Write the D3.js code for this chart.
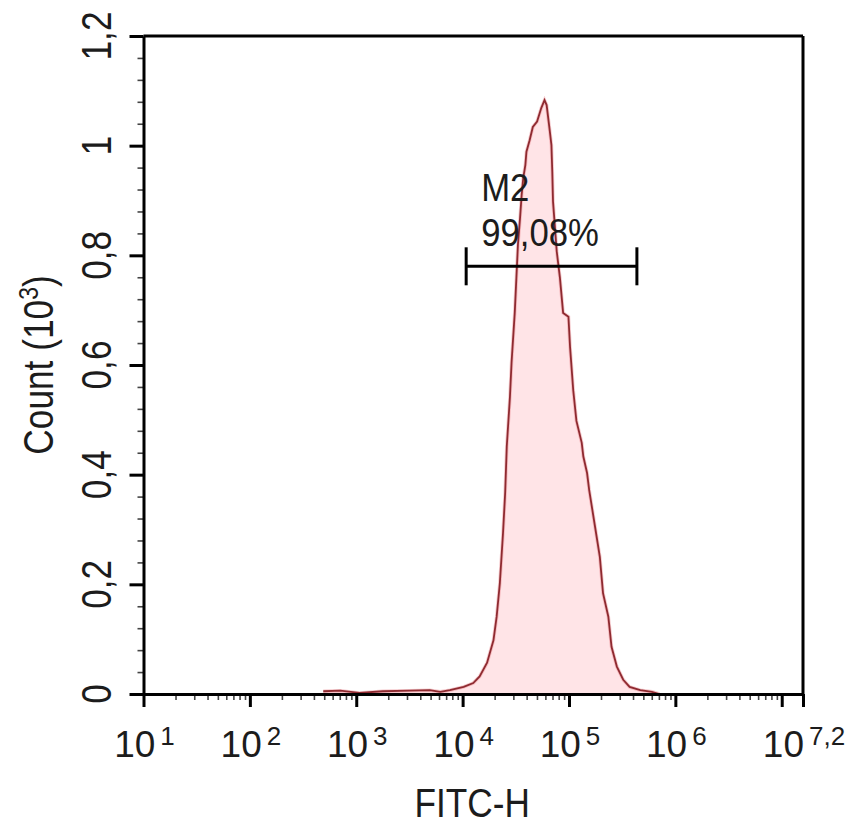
<!DOCTYPE html>
<html>
<head>
<meta charset="utf-8">
<script src="https://cdn.jsdelivr.net/npm/d3@7"></script>
<style>
body { margin: 0; background: #fff; }
text { font-family: "Liberation Sans", Arial, sans-serif; fill: #1c1c1c; }
</style>
</head>
<body>
<svg id="svg" width="847" height="825"></svg>
<script>
// histogram outline: x as log10(FITC-H), counts in 10^3
var fitcLog = [2.69, 2.85, 3.03, 3.25, 3.50, 3.69, 3.79, 3.88, 4.01, 4.10,
  4.16, 4.23, 4.29, 4.32, 4.35, 4.38, 4.40, 4.415, 4.445, 4.46,
  4.49, 4.505, 4.52, 4.54, 4.555, 4.57, 4.59, 4.60, 4.63, 4.66,
  4.70, 4.74, 4.77, 4.79, 4.82, 4.835, 4.843, 4.85, 4.885, 4.915,
  4.945, 4.995, 5.01, 5.04, 5.07, 5.12, 5.135, 5.17, 5.19, 5.245,
  5.29, 5.32, 5.37, 5.40, 5.45, 5.51, 5.57, 5.67, 5.78, 5.85];
var counts = [0.005, 0.006, 0.002, 0.005, 0.006, 0.007, 0.004, 0.007, 0.013, 0.020,
  0.032, 0.057, 0.098, 0.141, 0.202, 0.294, 0.367, 0.451, 0.542, 0.604,
  0.695, 0.757, 0.819, 0.868, 0.910, 0.941, 0.965, 0.989, 1.010, 1.034,
  1.044, 1.069, 1.083, 1.074, 1.026, 1.001, 0.953, 0.898, 0.807, 0.759,
  0.695, 0.688, 0.633, 0.554, 0.498, 0.458, 0.433, 0.403, 0.372, 0.305,
  0.250, 0.184, 0.141, 0.086, 0.050, 0.026, 0.013, 0.007, 0.004, 0];

// M2 gate
var markerName = "M2";
var markerPct = "99,08%";
var markerRange = [1.08e4, 4.35e5];
var markerLevel = 0.78;

// ticks
var yTicks = [0, 0.2, 0.4, 0.6, 0.8, 1, 1.2];
var yTickLabels = ["0", "0,2", "0,4", "0,6", "0,8", "1", "1,2"];
var xTickExps = [1, 2, 3, 4, 5, 6, 7, 7.2];
var xLabelExps = [1, 2, 3, 4, 5, 6, 7.2];
var xLabelSups = ["1", "2", "3", "4", "5", "6", "7,2"];

var svg = d3.select("svg");

var x = d3.scaleLog()
    .domain([10, Math.pow(10, 7.2)])
    .range([143.5, 803]);

var y = d3.scaleLinear()
    .domain([0, 1.2])
    .range([694, 36]);

var pts = fitcLog.map(function(e, i) { return [Math.pow(10, e), counts[i]]; });

// filled histogram
svg.append("path")
  .datum(pts)
  .attr("d", d3.area()
    .x(function(d) { return x(d[0]); })
    .y0(y(0))
    .y1(function(d) { return y(d[1]); }))
  .attr("fill", "#ffe4e7");

svg.append("path")
  .datum(pts)
  .attr("d", d3.line()
    .x(function(d) { return x(d[0]); })
    .y(function(d) { return y(d[1]); }))
  .attr("fill", "none")
  .attr("stroke", "#e9878e")
  .attr("stroke-width", 3.5)
  .attr("stroke-opacity", 0.45);

svg.append("path")
  .datum(pts)
  .attr("d", d3.line()
    .x(function(d) { return x(d[0]); })
    .y(function(d) { return y(d[1]); }))
  .attr("fill", "none")
  .attr("stroke", "#8e2a30")
  .attr("stroke-width", 1.8);

// frame top + right
svg.append("line")
  .attr("x1", x.range()[0]).attr("x2", x.range()[1])
  .attr("y1", y(1.2)).attr("y2", y(1.2))
  .attr("stroke", "#000").attr("stroke-width", 3);
svg.append("line")
  .attr("x1", x.range()[1]).attr("x2", x.range()[1])
  .attr("y1", y(1.2)).attr("y2", y(0))
  .attr("stroke", "#000").attr("stroke-width", 3);

// minor ticks first so the majors sit on top
var yMinor = d3.range(0, 1.2001, 0.04).filter(function(v) {
  return Math.abs(v / 0.2 - Math.round(v / 0.2)) > 0.01;
});
var gyMinor = svg.append("g")
  .attr("transform", "translate(" + x.range()[0] + ",0)")
  .call(d3.axisLeft(y).tickValues(yMinor).tickSize(6).tickFormat(""));
gyMinor.select(".domain").remove();
gyMinor.selectAll("line").attr("stroke", "#444").attr("stroke-width", 1.6);

var xMinor = [];
for (var dec = 1; dec < 7; dec++) {
  for (var k = 2; k <= 9; k++) xMinor.push(k * Math.pow(10, dec));
}
var gxMinor = svg.append("g")
  .attr("transform", "translate(0," + y(0) + ")")
  .call(d3.axisBottom(x).tickValues(xMinor).tickSize(6).tickFormat(""));
gxMinor.select(".domain").remove();
gxMinor.selectAll("line").attr("stroke", "#444").attr("stroke-width", 1.6);

// major axes
var gy = svg.append("g")
  .attr("transform", "translate(" + x.range()[0] + ",0)")
  .call(d3.axisLeft(y).tickValues(yTicks).tickSize(14).tickSizeOuter(0).tickFormat(""));
gy.select(".domain").attr("stroke-width", 3);
gy.selectAll("line").attr("stroke-width", 3);

var gx = svg.append("g")
  .attr("transform", "translate(0," + y(0) + ")")
  .call(d3.axisBottom(x)
    .tickValues(xTickExps.map(function(e) { return Math.pow(10, e); }))
    .tickSize(13).tickSizeOuter(0).tickFormat(""));
gx.select(".domain").attr("stroke-width", 3);
gx.selectAll("line").attr("stroke-width", 3);

// y tick labels, rotated and a bit narrow like the original
yTicks.forEach(function(v, i) {
  svg.append("text")
    .attr("transform", "translate(111," + y(v) + ") rotate(-90) scale(0.84,1)")
    .attr("text-anchor", "middle")
    .style("font-size", "42px")
    .text(yTickLabels[i]);
});

// x tick labels: 10 with a superscript exponent
xLabelExps.forEach(function(e, i) {
  var g = svg.append("g");
  var base = g.append("text")
    .attr("x", 0).attr("y", 0)
    .style("font-size", "37px")
    .text("10");
  var w10 = base.node().getComputedTextLength();
  var sup = g.append("text")
    .attr("x", w10 + 5).attr("y", -12)
    .style("font-size", "26px")
    .text(xLabelSups[i]);
  var total = w10 + 5 + sup.node().getComputedTextLength();
  g.attr("transform", "translate(" + (x(Math.pow(10, e)) - total / 2 + 1) + ",757)");
});

// axis titles
var ct = svg.append("text")
  .attr("transform", "translate(53,365) rotate(-90) scale(0.82,1)")
  .attr("text-anchor", "middle")
  .style("font-size", "43px");
ct.append("tspan").text("Count  (10");
ct.append("tspan").attr("dy", -15).style("font-size", "28px").text("3");
ct.append("tspan").attr("dy", 15).text(")");

svg.append("text")
  .attr("transform", "translate(" + ((x.range()[0] + x.range()[1]) / 2 - 1) + ",817) scale(0.88,1)")
  .attr("text-anchor", "middle")
  .style("font-size", "40px")
  .text("FITC-H");

// marker bar
var mx0 = x(markerRange[0]), mx1 = x(markerRange[1]), my = y(markerLevel);
svg.append("line")
  .attr("x1", mx0).attr("x2", mx1).attr("y1", my).attr("y2", my)
  .attr("stroke", "#000").attr("stroke-width", 3);
[mx0, mx1].forEach(function(px) {
  svg.append("line")
    .attr("x1", px).attr("x2", px).attr("y1", my - 19).attr("y2", my + 19)
    .attr("stroke", "#000").attr("stroke-width", 3);
});

svg.append("text")
  .attr("transform", "translate(" + (mx0 + 15) + "," + (my - 65) + ") scale(0.89,1)")
  .style("font-size", "39px")
  .text(markerName);
svg.append("text")
  .attr("transform", "translate(" + (mx0 + 15) + "," + (my - 20) + ") scale(0.89,1)")
  .style("font-size", "39px")
  .text(markerPct);
</script>
</body>
</html>
